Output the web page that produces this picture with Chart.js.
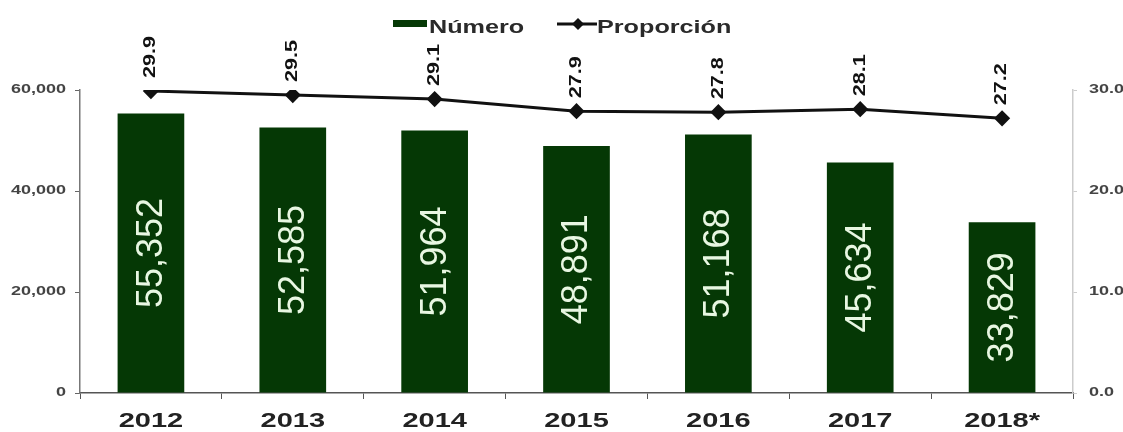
<!DOCTYPE html>
<html>
<head>
<meta charset="utf-8">
<script src="https://cdn.jsdelivr.net/npm/chart.js@4"></script>
<style>
    html, body { margin: 0; padding: 0; background: #fff; }
    #wrap { width: 1123px; height: 432px; position: relative; }
</style>
</head>
<body>
<div id="wrap"><canvas id="chart" width="1123" height="432"></canvas></div>
<script>
const years = ["2012", "2013", "2014", "2015", "2016", "2017", "2018*"];
const numero = [55352, 52585, 51964, 48891, 51168, 45634, 33829];
const proporcion = [29.9, 29.5, 29.1, 27.9, 27.8, 28.1, 27.2];
const leftTicks = [0, 20000, 40000, 60000];
const rightTicks = [0, 10, 20, 30];

const GREEN = "#053805";
const FONT = "Arial, 'Liberation Sans', sans-serif";

function fmtNum(v) {
    return v.toLocaleString("en-US");
}

// text in the reference is drawn wide, so stretch along the text
function wideText(ctx, text, x, y, sx, align, angle) {
    ctx.save();
    ctx.translate(x, y);
    if (angle) ctx.rotate(angle);
    ctx.scale(sx, 1);
    ctx.textAlign = align;
    ctx.fillText(text, 0, 0);
    ctx.restore();
}

// ── labels, tick labels, legend ──
const labelPlugin = {
    id: "labels",
    afterDatasetsDraw(chart) {
        const ctx = chart.ctx;
        const { x, y, y1 } = chart.scales;
        ctx.save();

        // bar values, rotated, inside bars
        ctx.fillStyle = "#e8f7e2";
        ctx.font = "36px " + FONT;
        ctx.textBaseline = "middle";
        chart.getDatasetMeta(0).data.forEach((bar, i) => {
            const cy = (bar.y + bar.base) / 2;
            wideText(ctx, fmtNum(numero[i]), bar.x + 1, cy, 1, "center", -Math.PI / 2);
        });

        // line values, rotated, above points
        ctx.fillStyle = "#111";
        ctx.font = "bold 16px " + FONT;
        ctx.textBaseline = "middle";
        chart.getDatasetMeta(1).data.forEach((pt, i) => {
            wideText(ctx, proporcion[i].toFixed(1), pt.x, pt.y - 13, 1.35, "left", -Math.PI / 2);
        });

        // x tick labels
        ctx.fillStyle = "#222";
        ctx.font = "bold 20px " + FONT;
        ctx.textBaseline = "alphabetic";
        years.forEach((lab, i) => {
            wideText(ctx, lab, x.getPixelForValue(i), 427, 1.45, "center");
        });

        // y tick labels
        ctx.fillStyle = "#444";
        ctx.font = "bold 12px " + FONT;
        ctx.textBaseline = "middle";
        leftTicks.forEach((v) => {
            wideText(ctx, fmtNum(v), 66, y.getPixelForValue(v), 1.5, "right");
        });
        rightTicks.forEach((v) => {
            wideText(ctx, v.toFixed(1), 1089, y1.getPixelForValue(v), 1.5, "left");
        });

        // legend
        ctx.font = "bold 18px " + FONT;
        ctx.textBaseline = "alphabetic";
        ctx.fillStyle = GREEN;
        ctx.fillRect(393, 20, 34, 7);
        ctx.fillStyle = "#2a2a2a";
        wideText(ctx, "Número", 429, 33, 1.4, "left");

        ctx.strokeStyle = "#111";
        ctx.lineWidth = 3;
        ctx.beginPath();
        ctx.moveTo(557, 24);
        ctx.lineTo(597, 24);
        ctx.stroke();
        ctx.fillStyle = "#111";
        ctx.beginPath();
        ctx.moveTo(578, 18);
        ctx.lineTo(584, 24);
        ctx.lineTo(578, 30);
        ctx.lineTo(572, 24);
        ctx.closePath();
        ctx.fill();
        ctx.fillStyle = "#2a2a2a";
        wideText(ctx, "Proporción", 597, 33, 1.4, "left");

        ctx.restore();
    },
};

const ctx = document.getElementById("chart").getContext("2d");
new Chart(ctx, {
    data: {
        labels: years,
        datasets: [
            {
                type: "bar",
                label: "Número",
                data: numero,
                backgroundColor: GREEN,
                borderWidth: 0,
                yAxisID: "y",
                categoryPercentage: 1,
                barPercentage: 0.47,
                order: 2,
            },
            {
                type: "line",
                label: "Proporción",
                data: proporcion,
                borderColor: "#111",
                backgroundColor: "#111",
                borderWidth: 3,
                pointStyle: "rectRot",
                pointRadius: 6,
                tension: 0,
                yAxisID: "y1",
                order: 1,
            },
        ],
    },
    options: {
        responsive: false,
        animation: false,
        layout: { padding: { top: 90, left: 0, right: 0, bottom: 0 } },
        plugins: {
            legend: { display: false },
            tooltip: { enabled: false },
        },
        scales: {
            x: {
                grid: {
                    drawOnChartArea: false,
                    offset: true,
                    color: "#555",
                    tickLength: 6,
                },
                border: { color: "#555", width: 1.5 },
                ticks: { display: false },
                afterFit(s) { s.height = 39; },
            },
            y: {
                position: "left",
                min: 0,
                max: 60000,
                afterBuildTicks(s) { s.ticks = leftTicks.map((v) => ({ value: v })); },
                grid: { drawOnChartArea: false, color: "#666", tickLength: 5 },
                border: { color: "#777", width: 1.5 },
                ticks: { display: false },
                afterFit(s) { s.width = 80; },
            },
            y1: {
                position: "right",
                min: 0,
                max: 30,
                afterBuildTicks(s) { s.ticks = rightTicks.map((v) => ({ value: v })); },
                grid: { drawOnChartArea: false, color: "#ccc", tickLength: 4 },
                border: { color: "#ccc", width: 1.5 },
                ticks: { display: false },
                afterFit(s) { s.width = 50; },
            },
        },
    },
    plugins: [labelPlugin],
});
</script>
</body>
</html>
